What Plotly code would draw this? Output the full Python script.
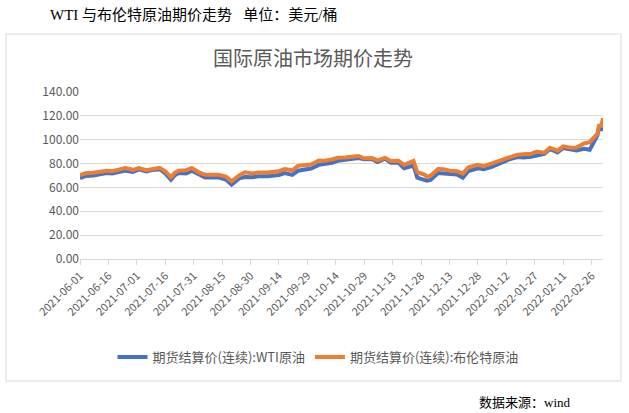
import plotly.graph_objects as go

dates = ["2021-06-01","2021-06-04","2021-06-08","2021-06-11","2021-06-15","2021-06-18","2021-06-22","2021-06-25","2021-06-29",
"2021-07-02","2021-07-06","2021-07-09","2021-07-13","2021-07-16","2021-07-19","2021-07-21","2021-07-23","2021-07-27","2021-07-30",
"2021-08-03","2021-08-06","2021-08-10","2021-08-13","2021-08-17","2021-08-20","2021-08-24","2021-08-27","2021-08-31",
"2021-09-03","2021-09-08","2021-09-10","2021-09-14","2021-09-17","2021-09-21","2021-09-24","2021-09-28",
"2021-10-01","2021-10-05","2021-10-08","2021-10-12","2021-10-15","2021-10-19","2021-10-22","2021-10-26","2021-10-29",
"2021-11-02","2021-11-05","2021-11-09","2021-11-12","2021-11-16","2021-11-19","2021-11-23","2021-11-24","2021-11-26","2021-11-30",
"2021-12-01","2021-12-03","2021-12-07","2021-12-10","2021-12-14","2021-12-17","2021-12-20","2021-12-23","2021-12-28","2021-12-31",
"2022-01-04","2022-01-07","2022-01-11","2022-01-14","2022-01-18","2022-01-21","2022-01-25","2022-01-28",
"2022-02-01","2022-02-04","2022-02-08","2022-02-11","2022-02-15","2022-02-18","2022-02-22","2022-02-25",
"2022-03-01","2022-03-02","2022-03-03","2022-03-04"]

wti = [67.72,69.62,70.05,70.91,72.12,71.64,73.06,74.05,72.98,
75.16,73.37,74.56,75.25,71.81,66.42,70.30,72.07,71.65,73.95,
70.56,68.28,68.29,68.44,66.59,62.32,67.54,68.74,68.50,
69.29,69.30,69.72,70.46,71.97,70.56,73.98,75.29,
75.88,78.93,79.35,80.64,82.28,82.96,83.76,84.65,83.57,
83.91,81.27,84.15,80.79,80.76,76.10,78.50,78.39,68.15,66.18,
65.57,66.26,72.05,71.67,70.73,70.86,68.23,73.79,75.98,75.21,
76.99,78.90,81.22,83.82,85.43,85.14,85.60,86.82,
88.20,92.31,89.36,93.10,92.07,91.07,92.35,91.59,
103.41,110.60,107.67,115.68]

brent = [70.25,71.89,72.22,72.69,73.99,73.51,74.81,76.18,74.76,
76.17,74.53,75.55,76.49,73.59,68.62,72.23,74.10,74.48,76.33,
72.41,70.70,70.63,70.59,69.03,65.18,70.05,72.70,71.63,
72.61,72.60,72.92,73.60,75.34,74.36,78.09,79.09,
79.28,82.56,82.39,83.42,84.86,85.08,85.53,86.40,84.38,
84.72,82.74,84.78,82.17,82.43,78.89,82.31,82.25,72.72,70.57,
68.87,69.88,75.44,75.15,73.70,73.52,71.52,76.85,78.94,77.78,
80.00,81.75,83.72,86.06,87.51,87.89,88.20,90.03,
89.16,93.27,90.78,94.44,93.28,93.54,96.84,97.93,
104.97,112.93,110.46,118.11]

tick_dates = ["2021-06-01","2021-06-16","2021-07-01","2021-07-16","2021-07-31","2021-08-15","2021-08-30",
"2021-09-14","2021-09-29","2021-10-14","2021-10-29","2021-11-13","2021-11-28","2021-12-13","2021-12-28",
"2022-01-12","2022-01-27","2022-02-11","2022-02-26"]
y_ticks = [0, 20, 40, 60, 80, 100, 120, 140]

W, H = 629, 413
L, R, T, B = 80, 603, 92, 259
pw, ph = R - L, B - T

def px(x):
    return (x - L) / pw

def py(y):
    return (B - y) / ph

fig = go.Figure()
fig.add_trace(go.Scatter(x=dates, y=wti, mode="lines", name="期货结算价(连续):WTI原油",
                         line=dict(color="#4472C4", width=4)))
fig.add_trace(go.Scatter(x=dates, y=brent, mode="lines", name="期货结算价(连续):布伦特原油",
                         line=dict(color="#ED7D31", width=4)))

sans = "Noto Sans CJK SC, Noto Sans, sans-serif"
serif = "Liberation Serif, Noto Sans CJK SC, serif"

fig.update_layout(
    width=W, height=H,
    margin=dict(l=L, r=W - R, t=T, b=H - B),
    paper_bgcolor="white", plot_bgcolor="white",
    showlegend=True,
    legend=dict(orientation="h", x=px(318), xanchor="center", y=py(357), yanchor="middle",
                font=dict(family=sans, size=13, color="#595959"), itemwidth=30,
                tracegroupgap=0),
    xaxis=dict(type="date", range=["2021-06-01", "2022-03-04"],
               tickvals=tick_dates, tickformat="%Y-%m-%d", tickangle=-45,
               tickfont=dict(family=sans, size=11, color="#595959"),
               showgrid=False, showline=True, linecolor="#D9D9D9", linewidth=1,
               ticks="outside", ticklen=5, tickcolor="#D9D9D9"),
    yaxis=dict(range=[0, 140], tickvals=y_ticks, tickformat=".2f",
               tickfont=dict(family=sans, size=12, color="#595959"),
               showgrid=True, gridcolor="#D9D9D9", gridwidth=1, zeroline=False,
               showline=False),
    shapes=[dict(type="rect", xref="paper", yref="paper",
                 x0=px(6), x1=px(621), y0=py(381), y1=py(34),
                 line=dict(color="#D9D9D9", width=1), fillcolor="rgba(0,0,0,0)", layer="below")],
    annotations=[
        dict(text="WTI 与布伦特原油期价走势   单位：美元/桶", xref="paper", yref="paper",
             x=px(48), y=py(15), xanchor="left", yanchor="middle", showarrow=False,
             font=dict(family=serif, size=15, color="#000000")),
        dict(text="国际原油市场期价走势", xref="paper", yref="paper",
             x=px(313), y=py(57), xanchor="center", yanchor="middle", showarrow=False,
             font=dict(family=sans, size=20, color="#595959")),
        dict(text="数据来源：wind", xref="paper", yref="paper",
             x=px(573), y=py(402), xanchor="right", yanchor="middle", showarrow=False,
             font=dict(family=serif, size=13, color="#000000")),
    ],
)

fig.write_html("out.html")
